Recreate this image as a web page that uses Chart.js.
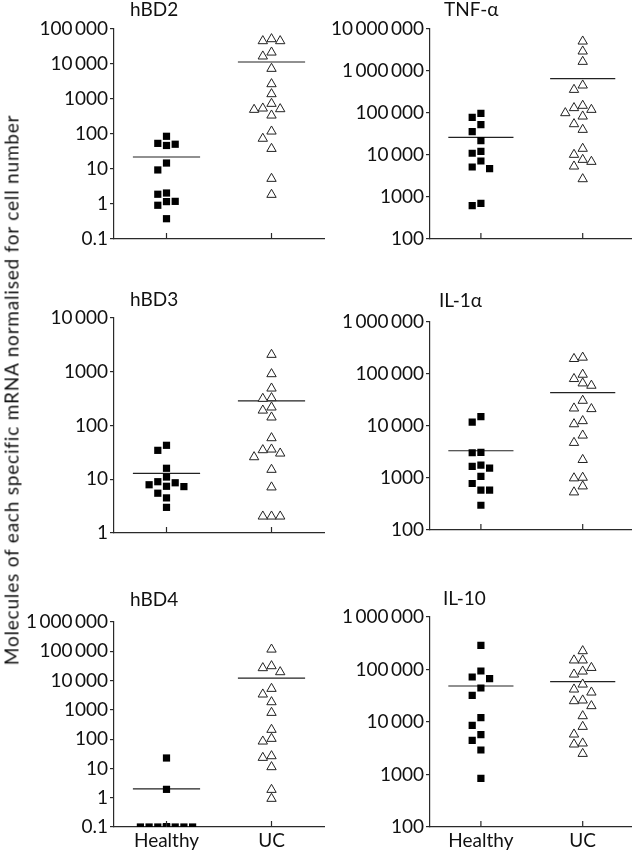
<!DOCTYPE html>
<html><head><meta charset="utf-8">
<script src="https://cdn.jsdelivr.net/npm/chart.js@4.4.1/dist/chart.umd.min.js"></script>
<style>
html,body{margin:0;padding:0;background:#fff;overflow:hidden;width:632px;height:852px;}
#wrap{position:relative;width:632px;height:852px;overflow:hidden;background:#fff;}
canvas{position:absolute;left:0;top:0;}
#ytitle{position:absolute;left:11px;top:390px;transform:translate(-50%,-50%) rotate(-90deg);white-space:nowrap;font:19px Lato, sans-serif;letter-spacing:0.8px;color:#111;}
</style></head><body>
<div id="wrap">
<canvas id="c1" width="640" height="852"></canvas>
<canvas id="c2" width="640" height="852"></canvas>
<canvas id="c3" width="640" height="852"></canvas>
<canvas id="c4" width="640" height="852"></canvas>
<canvas id="c5" width="640" height="852"></canvas>
<canvas id="c6" width="640" height="852"></canvas>
<div id="ytitle">Molecules of each specific mRNA normalised for cell number</div>
</div>
<script>
// ---- data ----
const groups = ['Healthy', 'UC'];

const hBD2Healthy = [86, 54, 47, 51, 14.8, 9.4, 1.9, 2.06, 1.19, 1.17, 0.92, 0.38];
const hBD2UC = [51800, 45400, 45400, 21500, 16600, 7360, 2680, 1390, 736, 518, 496, 541, 341, 119, 74, 38, 5.3, 1.85];
const hBD2Means = [22, 11400];
const hBD2Ticks = [0.1, 1, 10, 100, 1000, 10000, 100000];

const tnfHealthy = [98200, 78900, 52700, 35900, 21900, 11000, 12200, 7200, 5180, 4730, 707, 622];
const tnfUC = [5080000, 2940000, 1670000, 456000, 359000, 120000, 150000, 132000, 100000, 83300, 54700, 40100, 14200, 10200, 7740, 6940, 5370, 2680];
const tnfMeans = [26300, 656000];
const tnfTicks = [100, 1000, 10000, 100000, 1000000, 10000000];

const hBD3Healthy = [42.8, 34.5, 16.0, 11.0, 7.9, 7.3, 8.6, 9.0, 7.4, 5.5, 4.5, 3.0];
const hBD3UC = [2080, 908, 491, 325, 316, 191, 218, 142, 58.5, 36, 30.3, 35, 25.9, 15.1, 7.1, 2.04, 2.04, 2.04];
const hBD3Means = [12.9, 286];
const hBD3Ticks = [1, 10, 100, 1000, 10000];

const il1aHealthy = [15100, 11900, 3060, 3100, 1770, 1670, 1550, 1070, 784, 582, 582, 299];
const il1aUC = [208000, 196000, 97700, 80700, 66500, 60000, 30800, 21900, 21300, 10900, 12500, 6600, 4770, 2240, 1020, 993, 695, 533];
const il1aMeans = [3340, 44000];
const il1aTicks = [100, 1000, 10000, 100000, 1000000];

const hBD4Healthy = [22.7, 1.93, 0.1, 0.1, 0.1, 0.1, 0.1, 0.1, 0.1, 0.1, 0.1, 0.1];
const hBD4UC = [116000, 26900, 31400, 19600, 5290, 3390, 1850, 801, 211, 104, 84, 26.5, 23.3, 11.2, 1.88, 0.93];
const hBD4Means = [2.0, 12200];
const hBD4Ticks = [0.1, 1, 10, 100, 1000, 10000, 100000, 1000000];

const il10Healthy = [289000, 93700, 72000, 66800, 44400, 32200, 12100, 8650, 5740, 4480, 2930, 845];
const il10UC = [225000, 150000, 150000, 108000, 92200, 80800, 52100, 41900, 36700, 25900, 25100, 20200, 13000, 8150, 5820, 3930, 3760, 2490];
const il10Means = [48500, 58600];
const il10Ticks = [100, 1000, 10000, 100000, 1000000];

// ---- layout / style ----
const panels = [
  {id:'c1', title:'hBD2',  healthy:hBD2Healthy, uc:hBD2UC, means:hBD2Means, ticks:hBD2Ticks, axisX:114, top:29,  bottom:239, titleX:130, titleY:10,  xLabels:false},
  {id:'c2', title:'TNF-\u03b1', healthy:tnfHealthy, uc:tnfUC, means:tnfMeans, ticks:tnfTicks, axisX:430, top:29,  bottom:239, titleX:444, titleY:10,  xLabels:false},
  {id:'c3', title:'hBD3',  healthy:hBD3Healthy, uc:hBD3UC, means:hBD3Means, ticks:hBD3Ticks, axisX:114, top:318, bottom:533, titleX:130, titleY:300, xLabels:false},
  {id:'c4', title:'IL-1\u03b1', healthy:il1aHealthy, uc:il1aUC, means:il1aMeans, ticks:il1aTicks, axisX:430, top:322, bottom:530, titleX:439, titleY:301, xLabels:false},
  {id:'c5', title:'hBD4',  healthy:hBD4Healthy, uc:hBD4UC, means:hBD4Means, ticks:hBD4Ticks, axisX:114, top:622, bottom:827, titleX:130, titleY:600, xLabels:true},
  {id:'c6', title:'IL-10', healthy:il10Healthy, uc:il10UC, means:il10Means, ticks:il10Ticks, axisX:430, top:617, bottom:827, titleX:443, titleY:599, xLabels:true}
];
const W = 640, H = 852, PLOT_W = 210;
const AXIS = '#2a2a2a';
const FONT = 'Lato, "Open Sans", sans-serif';
const FS = 19;
Chart.defaults.font.family = FONT;
Chart.defaults.font.size = FS;
Chart.defaults.color = '#111';

function fmt(v) {
  if (v < 1) return String(v);
  const s = String(Math.round(v));
  if (s.length <= 4) return s;
  return s.replace(/\B(?=(\d{3})+(?!\d))/g, '\u2009');
}

const decor = {
  id: 'decor',
  afterDraw(chart, args, opts) {
    const {ctx, chartArea, scales: {x}} = chart;
    ctx.save();
    ctx.strokeStyle = AXIS; ctx.lineWidth = 1.2;
    groups.forEach((g, i) => {
      const px = x.getPixelForValue(i + 1);
      ctx.beginPath(); ctx.moveTo(px, chartArea.bottom); ctx.lineTo(px, chartArea.bottom - 6); ctx.stroke();
    });
    ctx.fillStyle = '#111';
    ctx.font = FS + 'px ' + FONT;
    ctx.textBaseline = 'middle'; ctx.textAlign = 'left';
    ctx.fillText(opts.title, opts.titleX, opts.titleY);
    ctx.restore();
  }
};

function swarm(chart, dsIndex, values, center) {
  const y = chart.scales.y, x = chart.scales.x;
  const unit = x.getPixelForValue(2) - x.getPixelForValue(1);
  const step = 8.7 / unit;
  const order = values.map((v, i) => i).sort((a, b) => values[b] - values[a]);
  const lanes = [0, -1, 1, -2, 2, -3, 3];
  const placed = lanes.map(() => []);
  const xs = new Array(values.length);
  for (const i of order) {
    const py = y.getPixelForValue(values[i]);
    let best = 0, bestGap = -1;
    for (let k = 0; k < lanes.length; k++) {
      const gap = placed[k].length ? Math.min(...placed[k].map(p => Math.abs(p - py))) : Infinity;
      if (gap >= 8.5) { best = k; break; }
      if (gap > bestGap) { bestGap = gap; best = k; }
    }
    placed[best].push(py);
    xs[i] = center + lanes[best] * step;
  }
  chart.data.datasets[dsIndex].data = values.map((v, i) => ({x: xs[i], y: v}));
}

panels.forEach(p => {
  const meanSeg = (m, c) => [{x: c - 0.32, y: m}, {x: c + 0.32, y: m}];
  const chart = new Chart(document.getElementById(p.id), {
    type: 'scatter',
    data: {
      datasets: [
        {label: groups[0], data: p.healthy.map(v => ({x: 1, y: v})), pointStyle: 'rect', pointRadius: 5.1, pointHoverRadius: 5.1,
         backgroundColor: '#000', borderColor: '#000', borderWidth: 0, clip: 0},
        {label: groups[1], data: p.uc.map(v => ({x: 2, y: v})), pointStyle: 'triangle', pointRadius: 5.4, pointHoverRadius: 5.4,
         backgroundColor: '#fff', borderColor: '#222', borderWidth: 1},
        {type: 'line', label: 'mean ' + groups[0], data: meanSeg(p.means[0], 1), borderColor: '#222', borderWidth: 1.2, pointRadius: 0, showLine: true, fill: false},
        {type: 'line', label: 'mean ' + groups[1], data: meanSeg(p.means[1], 2), borderColor: '#222', borderWidth: 1.2, pointRadius: 0, showLine: true, fill: false}
      ]
    },
    options: {
      responsive: false, animation: false, events: [],
      layout: {padding: {left: 0, top: p.top, right: W - (p.axisX + PLOT_W), bottom: 0}},
      plugins: {legend: {display: false}, tooltip: {enabled: false},
        decor: {title: p.title, titleX: p.titleX, titleY: p.titleY}},
      scales: {
        x: {
          type: 'linear', min: 0.5, max: 2.5,
          afterBuildTicks: s => { s.ticks = groups.map((g, i) => ({value: i + 1})); },
          ticks: {display: p.xLabels, callback: v => groups[Math.round(v) - 1], color: '#111', padding: 2, font: {size: FS}, maxRotation: 0, autoSkip: false},
          grid: {display: false, drawTicks: false},
          border: {display: true, color: AXIS, width: 1.2},
          afterFit: s => { s.height = H - p.bottom; }
        },
        y: {
          type: 'logarithmic', min: p.ticks[0], max: p.ticks[p.ticks.length - 1],
          afterBuildTicks: s => { s.ticks = p.ticks.map(v => ({value: v})); },
          ticks: {callback: v => fmt(v), color: '#111', padding: 2, font: {size: FS}, autoSkip: false},
          grid: {display: true, drawOnChartArea: false, drawTicks: true, tickLength: 4, color: AXIS, lineWidth: 1.2},
          border: {display: true, color: AXIS, width: 1.2},
          afterFit: s => { s.width = p.axisX; }
        }
      }
    },
    plugins: [decor]
  });
  swarm(chart, 0, p.healthy, 1);
  swarm(chart, 1, p.uc, 2);
  chart.update('none');
});
</script>
</body></html>
